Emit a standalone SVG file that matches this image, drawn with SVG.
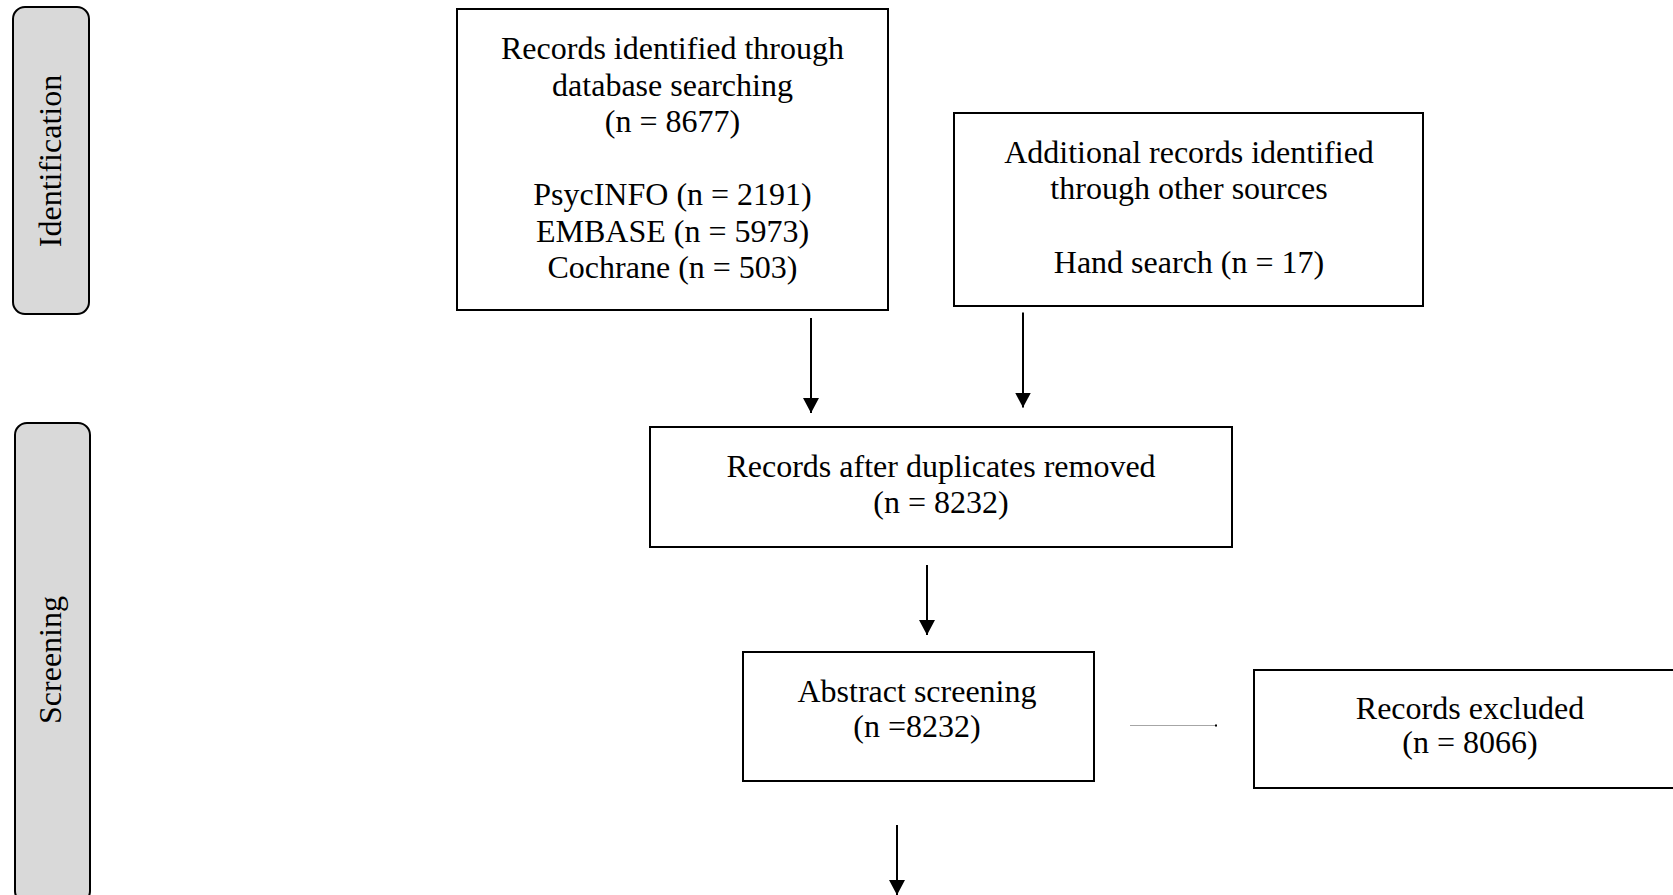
<svg xmlns="http://www.w3.org/2000/svg" width="1673" height="895" viewBox="0 0 1673 895">
<defs>
<style>
.t{font-family:"Liberation Serif","Times New Roman",serif;font-size:32px;fill:#000;text-anchor:middle}
.box{fill:#fff;stroke:#000;stroke-width:2}
.phase{fill:#d9d9d9;stroke:#000;stroke-width:2}
.arr{stroke:#000;stroke-width:2;fill:none;marker-end:url(#ah)}
</style>
<marker id="ah" markerUnits="userSpaceOnUse" markerWidth="16" markerHeight="16" viewBox="0 0 16 16" refX="15" refY="8" orient="auto">
<path d="M0,0 L15,8 L0,16 Z" fill="#000"/>
</marker>
</defs>
<rect width="1673" height="895" fill="#fff"/>
<g id="phase-identification">
<rect class="phase" x="13" y="7" width="76" height="307" rx="12"/>
<text class="t" transform="translate(61,161) rotate(-90)">Identification</text>
</g>
<g id="phase-screening">
<rect class="phase" x="15" y="423" width="75" height="480" rx="12"/>
<text class="t" transform="translate(61,660) rotate(-90)">Screening</text>
</g>
<g id="db-search">
<rect class="box" x="457" y="9" width="431" height="301"/>
<text class="t" x="672.5" y="59">Records identified through</text>
<text class="t" x="672.5" y="95.5">database searching</text>
<text class="t" x="672.5" y="132">(n = 8677)</text>
<text class="t" x="672.5" y="205">PsycINFO (n = 2191)</text>
<text class="t" x="672.5" y="241.5">EMBASE (n = 5973)</text>
<text class="t" x="672.5" y="278">Cochrane (n = 503)</text>
</g>
<g id="other-sources">
<rect class="box" x="954" y="113" width="469" height="193"/>
<text class="t" x="1189" y="163">Additional records identified</text>
<text class="t" x="1189" y="199">through other sources</text>
<text class="t" x="1189" y="273">Hand search (n = 17)</text>
</g>
<g id="dedup">
<rect class="box" x="650" y="427" width="582" height="120"/>
<text class="t" x="941" y="476.5">Records after duplicates removed</text>
<text class="t" x="941" y="513">(n = 8232)</text>
</g>
<g id="abstract">
<rect class="box" x="743" y="652" width="351" height="129"/>
<text class="t" x="917" y="702">Abstract screening</text>
<text class="t" x="917" y="737">(n =8232)</text>
</g>
<g id="excluded">
<rect class="box" x="1254" y="670" width="436" height="118"/>
<text class="t" x="1470" y="719">Records excluded</text>
<text class="t" x="1470" y="753">(n = 8066)</text>
</g>
<g id="connectors">
<path class="arr" d="M811,318 V413"/>
<path class="arr" d="M1023,312.5 V407.5"/>
<path class="arr" d="M927,565 V635"/>
<path class="arr" d="M897,825 V895"/>
<path d="M1130,725.5 H1216" stroke="#a6a6a6" stroke-width="1.2" fill="none"/>
<rect x="1215" y="724.5" width="2" height="2" fill="#000"/>
</g>
</svg>
